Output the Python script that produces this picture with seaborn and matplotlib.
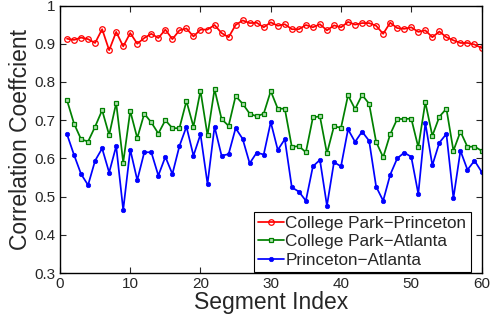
import numpy as np
import pandas as pd
import matplotlib
matplotlib.use("Agg")
import matplotlib.pyplot as plt
import seaborn as sns

segments = list(range(1, 61))
cp_princeton = [0.913, 0.910, 0.916, 0.912, 0.902, 0.938, 0.883, 0.931, 0.893, 0.928,
                0.900, 0.915, 0.926, 0.915, 0.937, 0.912, 0.935, 0.940, 0.919, 0.937,
                0.937, 0.949, 0.928, 0.917, 0.949, 0.961, 0.954, 0.955, 0.943, 0.956,
                0.947, 0.951, 0.938, 0.938, 0.949, 0.943, 0.951, 0.935, 0.948, 0.943,
                0.957, 0.950, 0.954, 0.954, 0.947, 0.926, 0.955, 0.941, 0.939, 0.943,
                0.931, 0.935, 0.917, 0.932, 0.917, 0.909, 0.902, 0.902, 0.898, 0.889]
cp_atlanta = [0.752, 0.691, 0.650, 0.644, 0.683, 0.726, 0.661, 0.745, 0.589, 0.724,
              0.653, 0.717, 0.694, 0.665, 0.700, 0.679, 0.679, 0.750, 0.683, 0.777,
              0.660, 0.781, 0.703, 0.685, 0.763, 0.743, 0.717, 0.710, 0.717, 0.776,
              0.730, 0.730, 0.630, 0.632, 0.616, 0.707, 0.710, 0.613, 0.684, 0.680,
              0.765, 0.729, 0.766, 0.743, 0.643, 0.603, 0.663, 0.703, 0.703, 0.704,
              0.629, 0.747, 0.659, 0.709, 0.730, 0.620, 0.670, 0.630, 0.631, 0.620]
princeton_atlanta = [0.663, 0.609, 0.559, 0.530, 0.594, 0.626, 0.563, 0.632, 0.465, 0.623,
                     0.543, 0.616, 0.616, 0.555, 0.604, 0.559, 0.632, 0.683, 0.607, 0.663,
                     0.533, 0.683, 0.607, 0.611, 0.679, 0.651, 0.587, 0.615, 0.610, 0.695,
                     0.622, 0.650, 0.524, 0.513, 0.489, 0.579, 0.596, 0.476, 0.590, 0.579,
                     0.676, 0.643, 0.670, 0.646, 0.526, 0.489, 0.557, 0.600, 0.615, 0.604,
                     0.507, 0.693, 0.582, 0.641, 0.664, 0.496, 0.620, 0.570, 0.594, 0.565]
labels = ["College Park\u2212Princeton", "College Park\u2212Atlanta", "Princeton\u2212Atlanta"]
xticks = [0, 10, 20, 30, 40, 50, 60]
yticks = [0.3, 0.4, 0.5, 0.6, 0.7, 0.8, 0.9, 1.0]
ytick_labels = ["0.3", "0.4", "0.5", "0.6", "0.7", "0.8", "0.9", "1"]

sns.set_style("ticks")
plt.rcParams["font.family"] = ["Liberation Sans", "DejaVu Sans"]

fig = plt.figure(figsize=(4.9, 3.24), dpi=100)
ax = fig.add_axes([0.1224, 0.1574, 0.8603, 0.8256])

styles = [
    dict(color="#ff0000", marker="o", markerfacecolor="none", markeredgecolor="#ff0000", markersize=4.0, markeredgewidth=0.9),
    dict(color="#008000", marker="s", markerfacecolor="#b0e0b0", markeredgecolor="#008000", markersize=3.4, markeredgewidth=0.9),
    dict(color="#0000ff", marker="o", markerfacecolor="#0000ff", markeredgecolor="#0000ff", markersize=3.2, markeredgewidth=0.5),
]
for vals, lab, st in zip([cp_princeton, cp_atlanta, princeton_atlanta], labels, styles):
    df = pd.DataFrame({"x": segments, "y": vals})
    sns.lineplot(data=df, x="x", y="y", ax=ax, label=lab, linewidth=1.25, **st)

ax.set_xlim(0, 60)
ax.set_ylim(0.3, 1.0)
ax.set_xticks(xticks)
ax.set_yticks(yticks)
ax.set_yticklabels(ytick_labels)
ax.tick_params(direction="in", top=True, right=True, labelsize=11, length=4, width=0.8, pad=3)
for s in ax.spines.values():
    s.set_linewidth(1.0)
    s.set_color("black")
ax.set_xlabel("Segment Index", fontsize=16.5, labelpad=0)
ax.set_ylabel("Correlation Coeffcient", fontsize=16.5, labelpad=2)

leg = ax.legend(loc="lower right", bbox_to_anchor=(0.974, 0.004), borderaxespad=0,
                fancybox=False, edgecolor="black", framealpha=1, fontsize=12.3,
                handlelength=1.5, handletextpad=0.1, labelspacing=0.2, borderpad=0.25)
leg.get_frame().set_linewidth(0.8)

fig.savefig("out.png", dpi=100)
